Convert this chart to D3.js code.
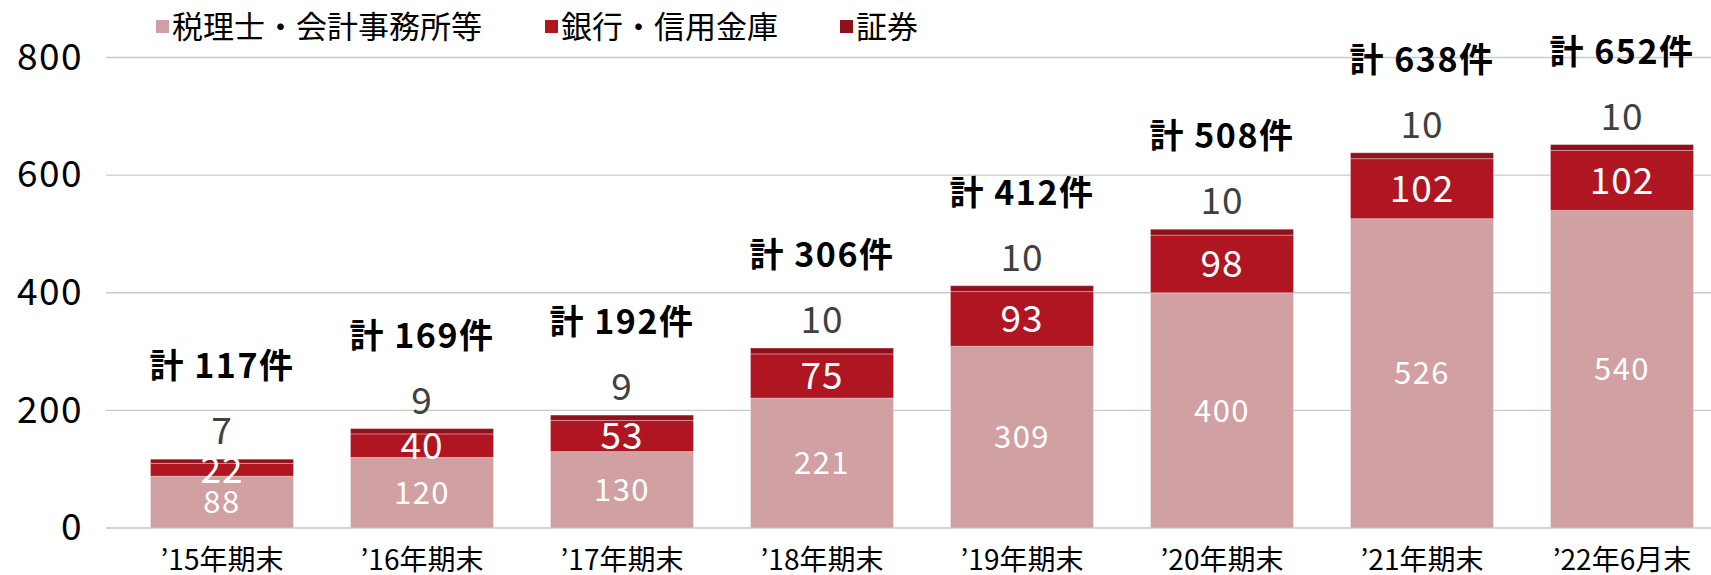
<!DOCTYPE html>
<html>
<head>
<meta charset="utf-8">
<script src="https://cdn.jsdelivr.net/npm/d3@7"></script>
<style>
  body { margin: 0; background: #fff; }
  svg { display: block; font-family: "Noto Sans CJK JP", "Noto Sans", sans-serif; }
</style>
</head>
<body>
<svg></svg>
<script>
// data
var categories = ["’15年期末", "’16年期末", "’17年期末", "’18年期末", "’19年期末", "’20年期末", "’21年期末", "’22年6月末"]
var seriesNames = ["税理士・会計事務所等", "銀行・信用金庫", "証券"]
var accountants = [88, 120, 130, 221, 309, 400, 526, 540]
var banks = [22, 40, 53, 75, 93, 98, 102, 102]
var securities = [7, 9, 9, 10, 10, 10, 10, 10]
var yTicks = [0, 200, 400, 600, 800]

var colors = ["#d0a0a2", "#b01621", "#8f111b"]

var width = 1711, height = 575

var svg = d3.select("svg")
    .attr("width", width)
    .attr("height", height)

var rows = categories.map((c, i) => ({
    cat: c, s0: accountants[i], s1: banks[i], s2: securities[i]
}))

var stack = d3.stack().keys(["s0", "s1", "s2"])
var layers = stack(rows)

var x = d3.scaleBand()
    .domain(categories)
    .range([122, 1722])
    .paddingInner(0.285)
    .paddingOuter(0.1425)

var y = d3.scaleLinear()
    .domain([0, 800])
    .range([528, 57.5])

// gridlines
svg.append("g")
    .selectAll("line")
    .data(yTicks)
    .enter()
    .append("line")
    .attr("x1", 106)
    .attr("x2", 1711)
    .attr("y1", (d) => y(d))
    .attr("y2", (d) => y(d))
    .attr("stroke", (d) => d === 0 ? "#d4d4d4" : "#c9c9c9")
    .attr("stroke-width", (d) => d === 0 ? 2 : 1.3)

// y axis labels
var yAxis = svg.append("g")
    .attr("transform", "translate(83,0)")
    .call(d3.axisLeft(y).tickValues(yTicks).tickSize(0).tickPadding(0))
yAxis.select(".domain").remove()
yAxis.selectAll("text")
    .attr("font-size", 37)
    .attr("letter-spacing", 1.5)
    .attr("fill", "#000")
    .attr("font-family", "Noto Sans CJK JP")

// stacked bars
var layer = svg.append("g")
    .selectAll("g")
    .data(layers)
    .enter()
    .append("g")
    .attr("fill", (d, i) => colors[i])

layer.selectAll("rect")
    .data((d) => d)
    .enter()
    .append("rect")
    .attr("x", (d) => x(d.data.cat))
    .attr("width", x.bandwidth())
    .attr("y", (d) => y(d[1]))
    .attr("height", (d) => y(d[0]) - y(d[1]))
    .attr("stroke", "rgba(255,255,255,0.3)")
    .attr("stroke-width", 1)

// labels inside pink segment
svg.append("g")
    .selectAll("text")
    .data(layers[0])
    .enter()
    .append("text")
    .attr("x", (d) => x(d.data.cat) + x.bandwidth() / 2)
    .attr("y", (d) => (y(d[0]) + y(d[1])) / 2)
    .attr("dy", "0.36em")
    .attr("text-anchor", "middle")
    .attr("font-size", 31)
    .attr("letter-spacing", 1.5)
    .attr("fill", "#fff")
    .text((d) => d[1] - d[0])

// labels inside red segment
svg.append("g")
    .selectAll("text")
    .data(layers[1])
    .enter()
    .append("text")
    .attr("x", (d) => x(d.data.cat) + x.bandwidth() / 2)
    .attr("y", (d) => (y(d[0]) + y(d[1])) / 2)
    .attr("dy", "0.36em")
    .attr("text-anchor", "middle")
    .attr("font-size", 37)
    .attr("letter-spacing", 1)
    .attr("fill", "#fff")
    .text((d) => d[1] - d[0])

// securities labels above bar
svg.append("g")
    .selectAll("text")
    .data(layers[2])
    .enter()
    .append("text")
    .attr("x", (d) => x(d.data.cat) + x.bandwidth() / 2)
    .attr("y", (d) => y(d[1]) - 15)
    .attr("text-anchor", "middle")
    .attr("font-size", 37)
    .attr("letter-spacing", 1)
    .attr("fill", "#404040")
    .text((d) => d[1] - d[0])

// totals
svg.append("g")
    .selectAll("text")
    .data(layers[2])
    .enter()
    .append("text")
    .attr("x", (d) => x(d.data.cat) + x.bandwidth() / 2)
    .attr("y", (d) => y(d[1]) - 81)
    .attr("text-anchor", "middle")
    .attr("font-size", 34)
    .attr("font-weight", "bold")
    .attr("letter-spacing", 1.5)
    .attr("fill", "#000")
    .text((d) => "計 " + d[1] + "件")

// x axis labels
svg.append("g")
    .selectAll("text")
    .data(categories)
    .enter()
    .append("text")
    .attr("x", (d) => x(d) + x.bandwidth() / 2)
    .attr("y", 570)
    .attr("text-anchor", "middle")
    .attr("font-size", 28)
    .attr("fill", "#000")
    .text((d) => d)

// legend
var legendX = [156, 545, 840]
var legend = svg.append("g")
    .selectAll("g")
    .data(seriesNames)
    .enter()
    .append("g")
    .attr("transform", (d, i) => "translate(" + legendX[i] + ",0)")

legend.append("rect")
    .attr("y", 20)
    .attr("width", 13)
    .attr("height", 13)
    .attr("fill", (d, i) => colors[i])

legend.append("text")
    .attr("x", 16)
    .attr("y", 38)
    .attr("font-size", 31)
    .attr("fill", "#000")
    .text((d) => d)
</script>
</body>
</html>
